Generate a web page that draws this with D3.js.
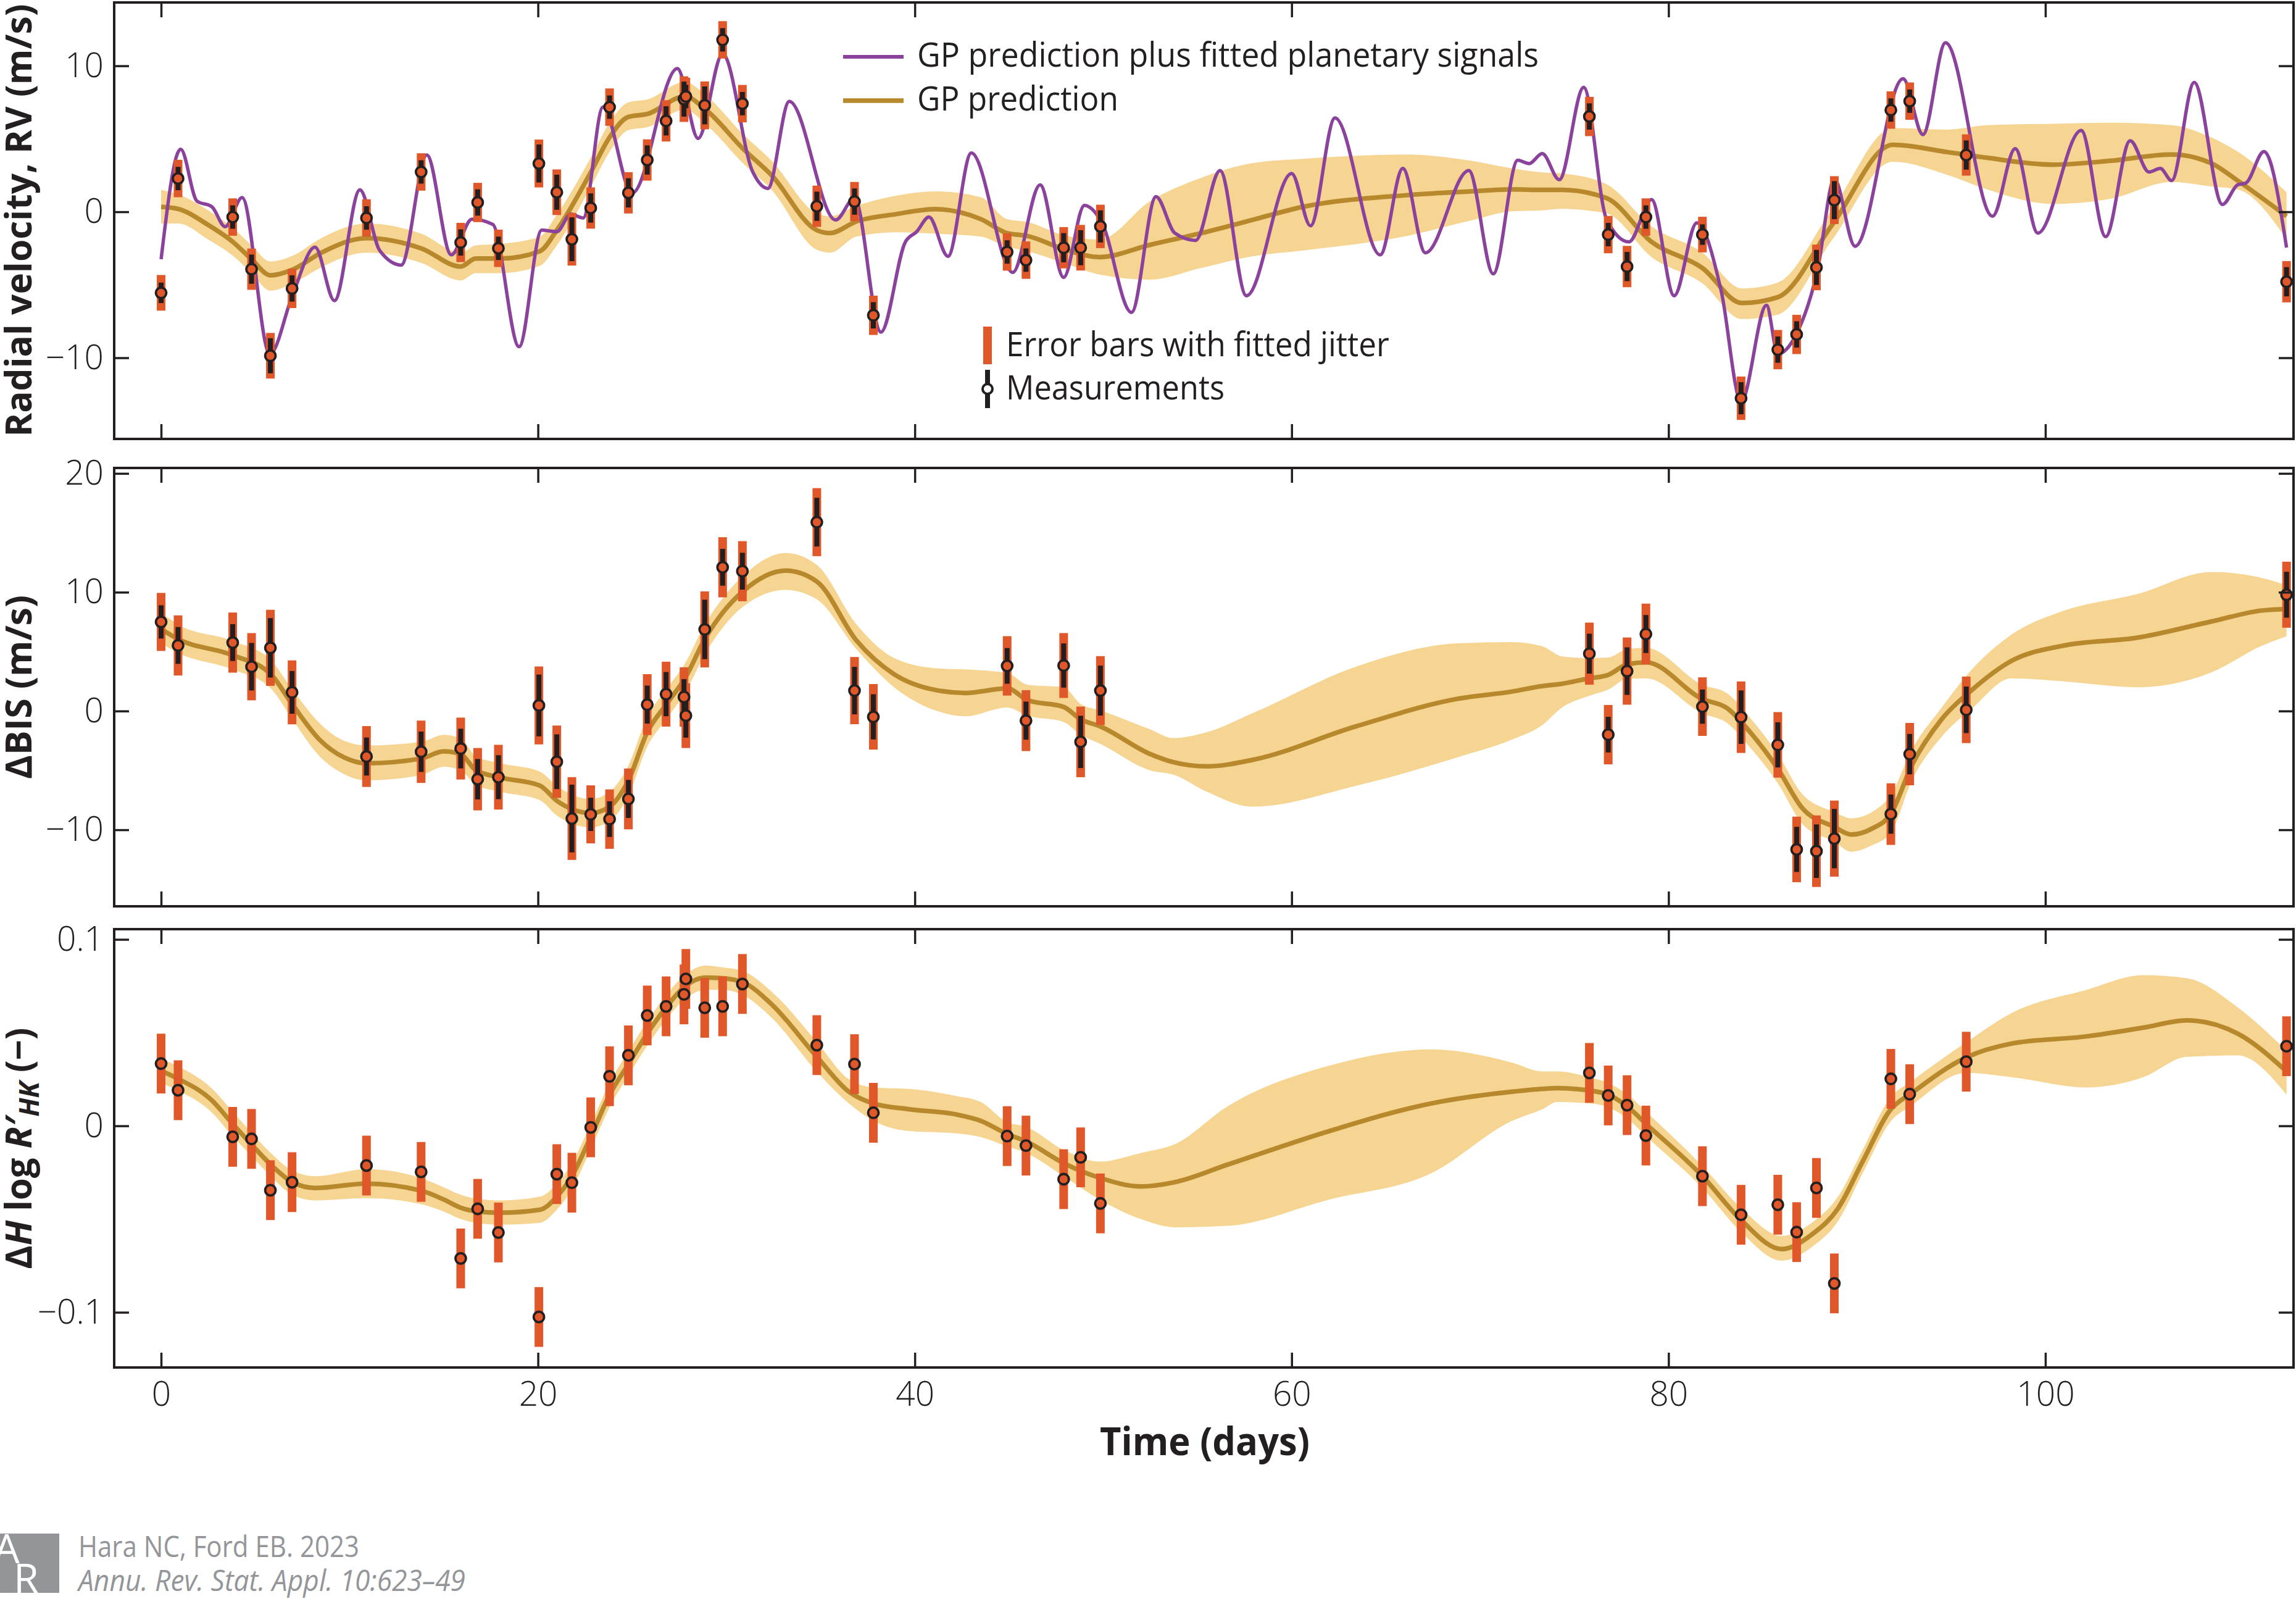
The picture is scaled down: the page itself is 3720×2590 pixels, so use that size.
<!DOCTYPE html>
<html>
<head>
<meta charset="utf-8">
<script src="https://cdn.jsdelivr.net/npm/d3@7"></script>
<style>
  html, body { margin: 0; padding: 0; background: #fff; }
  svg { display: block; }
</style>
</head>
<body>
<svg id="chart"></svg>
<script>
// observation epochs (days), shared by all three panels
var days = [0, 0.9, 3.8, 4.8, 5.8, 6.95, 10.9, 13.8, 15.9, 16.8, 17.9, 20.05, 21.0, 21.8, 22.8,
  23.8, 24.8, 25.8, 26.8, 27.75, 27.85, 28.85, 29.8, 30.85, 34.8, 36.8, 37.8, 44.9, 45.9, 47.9,
  48.8, 49.85, 75.8, 76.8, 77.8, 78.8, 81.8, 83.85, 85.8, 86.8, 87.85, 88.8, 91.8, 92.8, 95.8, 112.8];

// radial velocity measurements (m/s)
var rvVals = [-5.55, 2.28, -0.36, -3.93, -9.86, -5.25, -0.42, 2.73, -2.10, 0.64, -2.50, 3.31, 1.34, -1.88, 0.26,
  7.17, 1.30, 3.55, 6.23, 7.72, 7.90, 7.29, 11.78, 7.41, 0.38, 0.70, -7.09, -2.75, -3.31, -2.46,
  -2.46, -1.00, 6.53, -1.56, -3.75, -0.36, -1.56, -12.77, -9.44, -8.40, -3.81, 0.80, 6.97, 7.58, 3.89, -4.79];
var rvErr = [0.7, 0.8, 0.8, 1.0, 1.2, 0.9, 0.8, 0.8, 0.9, 0.9, 0.8, 1.3, 1.2, 1.5, 1.0,
  0.8, 1.0, 1.0, 1.0, 1.2, 0.8, 1.3, 0.8, 0.8, 1.0, 0.9, 0.9, 0.8, 0.8, 1.0,
  1.2, 1.1, 0.9, 0.8, 1.0, 0.8, 0.7, 1.1, 0.9, 0.9, 1.2, 1.3, 0.8, 0.8, 1.0, 1.0];
var rvJitter = 1.0;

// bisector span measurements (m/s)
var bisVals = [7.5, 5.52, 5.76, 3.73, 5.32, 1.57, -3.83, -3.43, -3.16, -5.74, -5.57, 0.47, -4.27, -9.05, -8.70,
  -9.10, -7.40, 0.54, 1.42, 1.18, -0.39, 6.87, 12.10, 11.77, 15.90, 1.72, -0.49, 3.80, -0.81, 3.83,
  -2.60, 1.72, 4.83, -1.99, 3.36, 6.48, 0.37, -0.52, -2.85, -11.65, -11.80, -10.74, -8.68, -3.63, 0.10, 9.79];
var bisErr = [1.4, 1.55, 1.55, 2.0, 2.5, 1.8, 1.6, 1.7, 1.67, 1.7, 1.85, 2.6, 2.3, 2.85, 1.4,
  1.5, 1.6, 1.6, 1.86, 1.5, 1.85, 2.5, 1.55, 1.55, 2.05, 2.0, 1.9, 1.5, 1.6, 1.86,
  2.2, 2.1, 1.68, 1.5, 2.0, 1.6, 1.44, 2.25, 1.9, 1.9, 2.25, 2.5, 1.65, 1.7, 1.96, 1.93];
var bisJitter = 2.0;

// log R'HK activity index
var hkVals = [0.0334, 0.0191, -0.0059, -0.0070, -0.0345, -0.0302, -0.0213, -0.0247, -0.0711, -0.0445, -0.0572, -0.1025, -0.0259, -0.0305, -0.0008,
  0.0266, 0.0378, 0.0592, 0.0641, 0.0705, 0.0788, 0.0633, 0.0641, 0.0761, 0.0433, 0.0331, 0.0070, -0.0055, -0.0106, -0.0286,
  -0.0169, -0.0416, 0.0284, 0.0163, 0.0111, -0.0052, -0.0270, -0.0477, -0.0423, -0.0570, -0.0333, -0.0845, 0.0252, 0.0170, 0.0344, 0.0427];
var hkErr = 0.001;
var hkJitter = 0.016;

// GP prediction, RV panel
var rvGpDay = [0, 0.9, 2.5, 3.8, 4.8, 5.8, 7.0, 8.5, 10.9, 13.8, 15.9, 16.7, 18, 20.1, 21, 22.8, 23.8, 24.8, 25.8, 27.8,
  28.9, 30.9, 32.4, 34.8, 35.5, 36.9, 39.0, 41.1, 43.5, 44.9, 46, 47.9, 49.8, 52.5, 55.2, 57.9, 60.6, 66.1, 69.5,
  71.7, 73.3, 74.35, 76.7, 79.1, 81.8, 83.9, 85.8, 88.7, 91.9, 94.8, 96.9, 100.4, 103.5, 106.7, 108.8, 110.2, 112.8];
var rvGpMean = [0.34, 0.2, -0.9, -2.05, -3.25, -4.35, -3.95, -2.8, -1.8, -2.5, -3.75, -3.2, -3.2, -2.7, -1.26, 2.7, 5.1, 6.5, 6.7, 7.9,
  7.0, 4.3, 2.5, -1.26, -1.46, -0.66, -0.16, 0.18, -0.5, -1.46, -1.66, -2.55, -3.1, -2.26, -1.46, -0.56, 0.34, 1.14, 1.4,
  1.54, 1.5, 1.5, 0.94, -2.06, -3.85, -6.25, -5.85, -0.86, 4.59, 4.09, 3.7, 3.23, 3.5, 3.93, 3.33, 2.14, -0.3];
var rvGpLo = [-0.8, -0.8, -1.9, -3.0, -4.2, -5.4, -4.9, -3.8, -2.8, -3.5, -4.7, -4.2, -4.2, -3.7, -2.3, 1.7, 4.1, 5.6, 5.8, 7.0,
  6.0, 3.3, 1.5, -2.6, -2.8, -1.7, -1.4, -1.5, -1.7, -2.4, -2.7, -3.5, -4.3, -4.65, -3.85, -3.05, -2.65, -1.66, -0.6,
  0.04, 0.1, 0.2, -0.1, -3.1, -4.9, -7.35, -7.05, -1.9, 3.43, 2.53, 1.54, 0.54, 0.9, 2.04, 1.74, 1.54, -1.86];
var rvGpHi = [1.5, 1.2, 0.1, -1.1, -2.3, -3.4, -3.0, -1.8, -0.8, -1.5, -2.8, -2.3, -2.2, -1.7, -0.2, 3.7, 6.1, 7.5, 7.7, 8.9,
  8.0, 5.3, 3.5, -0.1, -0.3, 0.4, 1.1, 1.4, 1.0, -0.5, -0.7, -1.6, -1.9, 0.74, 2.33, 3.33, 3.63, 3.93, 3.5,
  2.97, 2.7, 2.63, 1.9, -1.0, -2.8, -5.25, -4.85, 0.2, 5.73, 5.63, 5.93, 6.03, 6.1, 5.93, 5.1, 4.13, 1.34];

// GP prediction plus fitted planetary signals
var rvFitDay = [0, 1.04, 1.9, 2.7, 3.4, 4.3, 5.77, 7.0, 8.17, 9.2, 10.55, 11.6, 12.74, 14.1, 15.4, 16.5, 17.6, 19.0,
  20.2, 21.0, 21.75, 22.4, 23.45, 25.0, 27.4, 28.5, 29.8, 31.4, 32.2, 33.34, 35.8, 36.8, 38.2, 39.5, 40.1, 40.75,
  41.76, 43.0, 45.2, 46.65, 47.9, 49.0, 49.9, 51.5, 52.8, 53.8, 54.9, 56.2, 57.6, 60.0, 61.0, 62.3, 64.7, 65.9,
  67.1, 69.4, 70.7, 72.0, 72.6, 73.3, 74.2, 75.5, 76.7, 77.9, 79.1, 80.3, 81.5, 82.8, 83.85, 85.2, 85.8, 86.8,
  87.9, 88.8, 89.9, 92.45, 93.5, 94.7, 97.2, 98.4, 99.6, 101.9, 103.2, 104.5, 105.5, 106.1, 106.7, 107.9, 109.4,
  110.2, 110.65, 111.6, 112.8];
var rvFitVal = [-3.25, 4.29, 0.74, 0.34, -1.02, 0.98, -9.74, -5.6, -2.42, -6.09, 1.5, -2.65, -3.65, 3.89, -2.95, -0.5, -0.86, -9.24,
  -1.26, -1.36, -0.16, -0.42, 7.17, 1.28, 9.82, 5.03, 10.82, 2.73, 1.6, 7.56, -0.56, 0.94, -8.24, -2.06, -1.36, -0.36,
  -3.05, 4.03, -4.15, 1.84, -4.49, 0.44, -0.66, -6.89, 1.04, -1.46, -1.96, 2.83, -5.75, 2.63, -0.96, 6.43, -2.95, 2.97,
  -2.81, 2.83, -4.25, 3.53, 3.3, 3.99, 2.2, 8.52, -0.46, -2.06, 0.84, -5.75, -0.76, -5.45, -13.0, -6.4, -9.74, -8.34,
  -4.05, 2.24, -2.36, 9.12, 5.29, 11.58, -0.3, 4.33, -1.46, 5.57, -1.7, 4.87, 2.73, 2.97, 2.14, 8.86, 0.5,
  1.84, 1.98, 4.13, -2.45];

// GP prediction, BIS panel
var bisGpDay = [0, 0.89, 3.79, 5.82, 6.97, 8.4, 9.7, 10.9, 13.8, 15.0, 15.9, 16.7, 18, 20.1, 21, 22.8, 23.8, 24.8, 25.8,
  26.8, 27.8, 28.9, 29.8, 30.9, 33.15, 34.8, 36.9, 38.9, 41.1, 42.7, 44.9, 46, 47.9, 48.8, 49.85, 52.5, 53.7, 55.5,
  57.9, 63.4, 68.8, 71.7, 73.3, 74.35, 75.8, 76.8, 77.8, 78.8, 81.8, 83.1, 84.4, 85.8, 87.1, 88.8, 89.7, 90.8, 91.8,
  92.9, 94.5, 96.1, 98.2, 100.9, 104.9, 108.8, 111.5, 112.8];
var bisGpMean = [6.9, 6.06, 4.7, 3.1, 0.54, -2.4, -3.9, -4.4, -4.0, -3.4, -3.63, -4.98, -5.6, -6.28, -7.55, -8.58, -8.05, -5.84, -1.79,
  0.54, 2.75, 6.18, 8.27, 10.1, 11.82, 10.9, 5.94, 3.1, 1.77, 1.52, 1.9, 0.9, 0.34, -0.69, -1.3, -3.63, -4.3, -4.66,
  -4.12, -1.3, 1.03, 1.64, 2.1, 2.3, 2.75, 3.04, 3.92, 4.1, 1.0, 0.25, -1.91, -4.86, -8.17, -9.76, -10.4, -9.9, -8.66,
  -4.61, -0.69, 1.77, 4.22, 5.49, 6.18, 7.53, 8.46, 8.58];
var bisGpLo = [5.7, 4.9, 3.5, 1.9, -0.7, -3.8, -5.3, -5.84, -5.4, -4.7, -5.0, -6.2, -6.8, -7.5, -8.8, -9.8, -9.3, -7.1, -3.0,
  -0.7, 1.5, 4.9, 7.0, 8.8, 10.2, 9.4, 5.2, 2.0, 0.05, -0.44, 0.3, -0.4, -0.93, -2.0, -2.77, -5.0, -5.35, -6.8,
  -8.05, -6.3, -3.9, -2.4, -1.18, 0.3, 1.28, 1.8, 2.7, 2.75, -0.2, -1.0, -3.2, -6.08, -9.5, -11.0, -11.85, -11.3, -10.25,
  -5.9, -2.16, 0.2, 2.75, 2.5, 2.0, 3.24, 5.5, 6.3];
var bisGpHi = [8.3, 7.3, 5.9, 4.3, 1.8, -1.0, -2.5, -2.9, -2.6, -2.0, -2.3, -3.8, -4.4, -5.1, -6.3, -7.4, -6.8, -4.6, -0.5,
  1.8, 4.0, 7.4, 9.5, 11.4, 13.3, 12.3, 7.3, 4.46, 3.6, 3.5, 3.2, 2.2, 2.0, 0.6, 0.05, -1.55, -2.28, -1.79,
  -0.2, 3.73, 5.7, 5.81, 5.45, 4.6, 4.46, 4.5, 5.2, 5.32, 2.2, 1.5, -0.7, -3.63, -7.0, -8.5, -9.03, -8.5, -7.06,
  -3.3, 0.29, 3.5, 6.43, 8.4, 9.86, 11.7, 11.2, 10.6];

// GP prediction, log R'HK panel
var hkGpDay = [0, 0.89, 2.7, 3.79, 4.78, 5.82, 6.97, 8.17, 10.9, 13.8, 15.0, 15.9, 16.7, 18.0, 20.1, 21, 21.8, 22.8, 23.8,
  24.8, 25.8, 26.8, 27.8, 28.9, 29.8, 30.9, 32.4, 34.8, 36.5, 37.8, 39.7, 42.2, 43.5, 44.9, 45.9, 47.9, 49.8, 52.0,
  53.8, 56.6, 62.0, 67.4, 71.7, 73.3, 74.1, 75.8, 76.8, 77.8, 78.8, 81.8, 83.85, 86.0, 87.6, 89.0, 90.3, 91.8, 92.9,
  95.8, 98.2, 102.2, 105.2, 107.5, 110.2, 112.8];
var hkGpMean = [0.0295, 0.0253, 0.0136, 0.0011, -0.0098, -0.0208, -0.0302, -0.0333, -0.031, -0.0348, -0.0395, -0.0439, -0.0458, -0.0466, -0.045, -0.038, -0.027, -0.0059, 0.0167,
  0.0331, 0.0495, 0.0636, 0.0748, 0.0795, 0.0792, 0.0769, 0.0652, 0.037, 0.0183, 0.012, 0.0089, 0.0061, 0.0027, -0.0044, -0.0083, -0.02, -0.0278, -0.0325,
  -0.0302, -0.0208, -0.0028, 0.012, 0.0183, 0.0198, 0.0202, 0.019, 0.0167, 0.0105, 0.0011, -0.027, -0.0505, -0.0661, -0.0583, -0.0442, -0.0192, 0.0089, 0.0175,
  0.0367, 0.0441, 0.048, 0.0527, 0.0566, 0.0495, 0.0292];
var hkGpLo = [0.023, 0.019, 0.0071, -0.0055, -0.016, -0.027, -0.037, -0.040, -0.0388, -0.042, -0.046, -0.050, -0.052, -0.053, -0.052, -0.045, -0.034, -0.0125, 0.010,
  0.027, 0.043, 0.057, 0.068, 0.073, 0.073, 0.070, 0.058, 0.029, 0.012, 0.0027, -0.0028, -0.004, -0.006, -0.011, -0.0145, -0.027, -0.0395, -0.050,
  -0.0544, -0.0536, -0.0395, -0.0255, 0.0027, 0.0089, 0.0128, 0.012, 0.010, 0.004, -0.0055, -0.0333, -0.057, -0.0723, -0.065, -0.051, -0.0255, 0.0025, 0.011,
  0.0284, 0.0261, 0.0206, 0.0261, 0.037, 0.0378, 0.0167];
var hkGpHi = [0.036, 0.032, 0.020, 0.0077, -0.0035, -0.0145, -0.024, -0.027, -0.0232, -0.028, -0.033, -0.037, -0.039, -0.040, -0.038, -0.031, -0.020, 0.0007, 0.023,
  0.040, 0.056, 0.070, 0.081, 0.086, 0.085, 0.083, 0.072, 0.045, 0.025, 0.0206, 0.0198, 0.016, 0.0128, 0.002, -0.0005, -0.013, -0.0192, -0.0145,
  -0.0098, 0.0105, 0.0323, 0.041, 0.0339, 0.0292, 0.0292, 0.026, 0.023, 0.017, 0.0077, -0.0216, -0.044, -0.059, -0.052, -0.038, -0.013, 0.0155, 0.024,
  0.0448, 0.0605, 0.073, 0.0808, 0.0792, 0.0636, 0.0402];

// tick values and labels
var xTicks = [0, 20, 40, 60, 80, 100];
var rvTicks = [-10, 0, 10], rvTickLabels = ["\u221210", "0", "10"];
var bisTicks = [-10, 0, 10, 20], bisTickLabels = ["\u221210", "0", "10", "20"];
var hkTicks = [-0.1, 0, 0.1], hkTickLabels = ["\u22120.1", "0", "0.1"];


var width = 3720
var height = 2590
var font = "'Open Sans', 'Noto Sans', 'DejaVu Sans', sans-serif"
var ink = "#231f20"
var bandColor = "#f6d592"
var gpColor = "#b8892c"
var fitColor = "#8b429d"
var errColor = "#e0582a"

var svg = d3.select("#chart")
  .attr("width", width)
  .attr("height", height)
  .style("font-family", font)

var left = 185, right = 3716
var x = d3.scaleLinear().domain([-2.49, 113.17]).range([left, right])

var panels = [
  { top: 4, bottom: 711, domain: [-15.56, 14.34], ticks: rvTicks, labels: rvTickLabels,
    vals: rvVals, err: rvErr, jitter: rvJitter,
    gpDay: rvGpDay, gpMean: rvGpMean, gpLo: rvGpLo, gpHi: rvGpHi },
  { top: 758, bottom: 1468, domain: [-16.44, 20.46], ticks: bisTicks, labels: bisTickLabels,
    vals: bisVals, err: bisErr, jitter: bisJitter,
    gpDay: bisGpDay, gpMean: bisGpMean, gpLo: bisGpLo, gpHi: bisGpHi },
  { top: 1505, bottom: 2215, domain: [-0.1296, 0.1055], ticks: hkTicks, labels: hkTickLabels,
    vals: hkVals, err: hkErr, jitter: hkJitter,
    gpDay: hkGpDay, gpMean: hkGpMean, gpLo: hkGpLo, gpHi: hkGpHi }
]

function styleAxis(sel) {
  sel.select(".domain").remove()
  sel.selectAll(".tick line").attr("stroke", ink).attr("stroke-width", 3.5)
  sel.selectAll(".tick text")
    .attr("fill", ink)
    .style("font-family", font)
    .style("font-size", "55px")
    .style("font-weight", 300)
}

panels.forEach(function (p, k) {
  var y = d3.scaleLinear().domain(p.domain).range([p.bottom, p.top])
  var g = svg.append("g")

  g.append("clipPath").attr("id", "clip" + k)
    .append("rect")
    .attr("x", left).attr("y", p.top)
    .attr("width", right - left).attr("height", p.bottom - p.top)

  var plot = g.append("g").attr("clip-path", "url(#clip" + k + ")")

  var gpIdx = d3.range(p.gpDay.length)

  // uncertainty band of the GP
  var band = d3.area()
    .x(function (i) { return x(p.gpDay[i]) })
    .y0(function (i) { return y(p.gpLo[i]) })
    .y1(function (i) { return y(p.gpHi[i]) })
    .curve(d3.curveMonotoneX)
  plot.append("path").datum(gpIdx)
    .attr("d", band)
    .attr("fill", bandColor)

  var gpLine = d3.line()
    .x(function (i) { return x(p.gpDay[i]) })
    .y(function (i) { return y(p.gpMean[i]) })
    .curve(d3.curveMonotoneX)
  plot.append("path").datum(gpIdx)
    .attr("d", gpLine)
    .attr("fill", "none")
    .attr("stroke", gpColor)
    .attr("stroke-width", 7.5)

  // GP + planets only in the RV panel
  if (k === 0) {
    var fitLine = d3.line()
      .x(function (i) { return x(rvFitDay[i]) })
      .y(function (i) { return y(rvFitVal[i]) })
      .curve(d3.curveMonotoneX)
    plot.append("path").datum(d3.range(rvFitDay.length))
      .attr("d", fitLine)
      .attr("fill", "none")
      .attr("stroke", fitColor)
      .attr("stroke-width", 5.5)
  }

  // error bars: jitter-inflated (orange) and measurement (black)
  function errAt(i) { return Array.isArray(p.err) ? p.err[i] : p.err }
  var pts = d3.range(days.length)

  plot.selectAll(".jit").data(pts).enter().append("rect")
    .attr("x", function (i) { return x(days[i]) - 7 })
    .attr("width", 14)
    .attr("y", function (i) {
      var e = errAt(i); return y(p.vals[i] + Math.sqrt(e * e + p.jitter * p.jitter))
    })
    .attr("height", function (i) {
      var e = errAt(i), t = Math.sqrt(e * e + p.jitter * p.jitter)
      return y(p.vals[i] - t) - y(p.vals[i] + t)
    })
    .attr("fill", errColor)

  plot.selectAll(".meas").data(pts).enter().append("rect")
    .attr("x", function (i) { return x(days[i]) - 4 })
    .attr("width", 8)
    .attr("y", function (i) { return y(p.vals[i] + errAt(i)) })
    .attr("height", function (i) { return y(p.vals[i] - errAt(i)) - y(p.vals[i] + errAt(i)) })
    .attr("fill", ink)

  plot.selectAll(".pt").data(pts).enter().append("circle")
    .attr("cx", function (i) { return x(days[i]) })
    .attr("cy", function (i) { return y(p.vals[i]) })
    .attr("r", 8.5)
    .attr("fill", errColor)
    .attr("stroke", ink)
    .attr("stroke-width", 3.8)

  // axes, ticks pointing inward
  g.append("g").attr("transform", "translate(" + left + ",0)")
    .call(d3.axisLeft(y).tickValues(p.ticks)
      .tickFormat(function (d) { return p.labels[p.ticks.indexOf(d)] })
      .tickSizeInner(-24).tickSizeOuter(0).tickPadding(17))
    .call(styleAxis)
  g.append("g").attr("transform", "translate(" + right + ",0)")
    .call(d3.axisRight(y).tickValues(p.ticks).tickFormat("").tickSizeInner(-24).tickSizeOuter(0))
    .call(styleAxis)
  g.append("g").attr("transform", "translate(0," + p.top + ")")
    .call(d3.axisTop(x).tickValues(xTicks).tickFormat("").tickSizeInner(-24).tickSizeOuter(0))
    .call(styleAxis)
  g.append("g").attr("transform", "translate(0," + p.bottom + ")")
    .call(d3.axisBottom(x).tickValues(xTicks)
      .tickFormat(k === 2 ? d3.format("d") : "")
      .tickSizeInner(-24).tickSizeOuter(0).tickPadding(23))
    .call(styleAxis)

  // frame
  g.append("rect")
    .attr("x", left).attr("y", p.top)
    .attr("width", right - left).attr("height", p.bottom - p.top)
    .attr("fill", "none")
    .attr("stroke", ink)
    .attr("stroke-width", 4)
})

// axis titles
function yTitle(cy, len) {
  return svg.append("text")
    .attr("transform", "translate(51," + cy + ") rotate(-90)")
    .attr("text-anchor", "middle")
    .attr("textLength", len)
    .attr("lengthAdjust", "spacingAndGlyphs")
    .style("font-size", "59px")
    .style("font-weight", 700)
    .attr("fill", ink)
}
yTitle(357, 701).text("Radial velocity, RV (m/s)")
yTitle(1113, 298).text("\u0394BIS (m/s)")

var hkTitle = yTitle(1860, 391)
hkTitle.append("tspan").text("\u0394")
hkTitle.append("tspan").style("font-style", "italic").text("H")
hkTitle.append("tspan").text(" log ")
hkTitle.append("tspan").style("font-style", "italic").text("R\u2032")
hkTitle.append("tspan").style("font-style", "italic").style("font-size", "44px").attr("dy", 12).text("HK")
hkTitle.append("tspan").attr("dy", -12).text(" (\u2212)")

svg.append("text")
  .attr("x", 1952).attr("y", 2357)
  .attr("text-anchor", "middle")
  .attr("textLength", 340)
  .attr("lengthAdjust", "spacingAndGlyphs")
  .style("font-size", "62px")
  .style("font-weight", 700)
  .attr("fill", ink)
  .text("Time (days)")

// legend
var leg = svg.append("g")
function legText(tx, ty, len, s) {
  leg.append("text")
    .attr("x", tx).attr("y", ty)
    .attr("textLength", len)
    .attr("lengthAdjust", "spacingAndGlyphs")
    .style("font-size", "55px")
    .attr("fill", ink)
    .text(s)
}
leg.append("line").attr("x1", 1366).attr("x2", 1464).attr("y1", 92).attr("y2", 92)
  .attr("stroke", fitColor).attr("stroke-width", 6)
legText(1486, 108, 1007, "GP prediction plus fitted planetary signals")
leg.append("line").attr("x1", 1366).attr("x2", 1464).attr("y1", 163).attr("y2", 163)
  .attr("stroke", gpColor).attr("stroke-width", 7.5)
legText(1486, 179, 326, "GP prediction")
leg.append("rect").attr("x", 1593).attr("y", 529).attr("width", 14).attr("height", 61)
  .attr("fill", errColor)
legText(1630, 577, 621, "Error bars with fitted jitter")
leg.append("rect").attr("x", 1596).attr("y", 599).attr("width", 8).attr("height", 62)
  .attr("fill", ink)
leg.append("circle").attr("cx", 1600).attr("cy", 630).attr("r", 8)
  .attr("fill", "#fff").attr("stroke", ink).attr("stroke-width", 4)
legText(1630, 647, 354, "Measurements")

// credit line with logo
var grey = "#939598"
var logo = svg.append("g")
logo.append("clipPath").attr("id", "logoclip")
  .append("rect").attr("x", 0).attr("y", 2484).attr("width", 96).attr("height", 96)
logo.append("rect").attr("x", 0).attr("y", 2484).attr("width", 96).attr("height", 96).attr("fill", grey)
var logoText = logo.append("g").attr("clip-path", "url(#logoclip)")
logoText.append("text").attr("x", -10).attr("y", 2532).style("font-size", "66px")
  .attr("fill", "#fff").text("A")
logoText.append("text").attr("x", 22).attr("y", 2580).style("font-size", "66px")
  .attr("fill", "#fff").text("R")
svg.append("text").attr("x", 127).attr("y", 2522)
  .attr("textLength", 455).attr("lengthAdjust", "spacingAndGlyphs")
  .style("font-size", "47px").attr("fill", grey)
  .text("Hara NC, Ford EB. 2023")
svg.append("text").attr("x", 127).attr("y", 2577)
  .attr("textLength", 627).attr("lengthAdjust", "spacingAndGlyphs")
  .style("font-size", "47px").style("font-style", "italic").attr("fill", grey)
  .text("Annu. Rev. Stat. Appl. 10:623\u201349")
</script>
</body>
</html>
